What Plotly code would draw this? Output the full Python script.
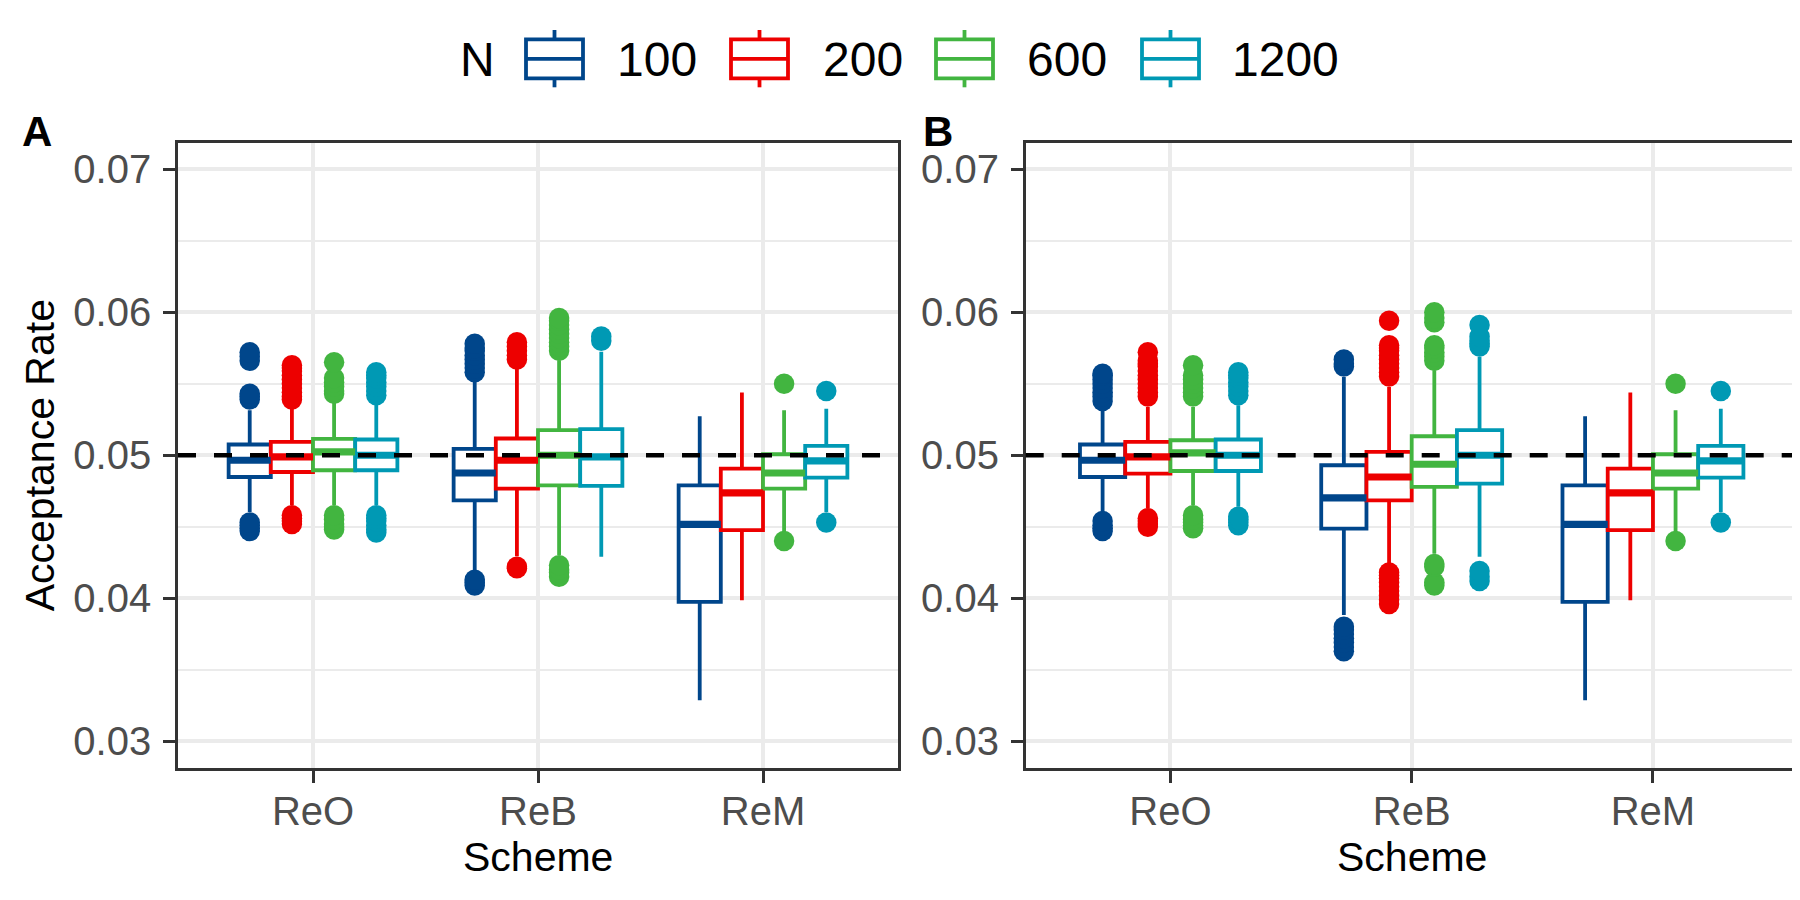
import plotly.graph_objects as go

# ---- data ----
SCHEMES = ["ReO", "ReB", "ReM"]
SIZES = ["100", "200", "600", "1200"]
COLORS = ["#00468B", "#ED0000", "#42B540", "#0099B4"]

# panel A: rows are N = 100, 200, 600, 1200; columns are ReO, ReB, ReM
A_LOWER = [
    [0.04604, 0.04196, 0.03287],
    [0.04650, 0.04294, 0.03986],
    [0.04650, 0.04301, 0.04464],
    [0.04650, 0.04290, 0.04604],
]
A_Q1 = [
    [0.04848, 0.04685, 0.03974],
    [0.04883, 0.04767, 0.04476],
    [0.04895, 0.04790, 0.04767],
    [0.04895, 0.04786, 0.04844],
]
A_MEDIAN = [
    [0.04965, 0.04876, 0.04517],
    [0.04988, 0.04965, 0.04737],
    [0.05023, 0.05000, 0.04876],
    [0.05000, 0.04988, 0.04960],
]
A_Q3 = [
    [0.05075, 0.05044, 0.04790],
    [0.05093, 0.05117, 0.04907],
    [0.05114, 0.05175, 0.05007],
    [0.05110, 0.05182, 0.05065],
]
A_UPPER = [
    [0.05315, 0.05513, 0.05273],
    [0.05326, 0.05606, 0.05438],
    [0.05366, 0.05664, 0.05315],
    [0.05357, 0.05723, 0.05326],
]
A_OUTLIERS = [
    [
        [0.0539, 0.0541, 0.0543, 0.0566, 0.0569, 0.0572, 0.0447, 0.0449, 0.0451, 0.0453],
        [0.0558, 0.0561, 0.0564, 0.0567, 0.0570, 0.0573, 0.0575, 0.0578, 0.0409, 0.0411, 0.0413],
        [],
    ],
    [
        [0.0539, 0.0541, 0.0544, 0.0547, 0.0550, 0.0553, 0.0556, 0.0559, 0.0561, 0.0563,
         0.0452, 0.0454, 0.0456, 0.0458],
        [0.0567, 0.0570, 0.0573, 0.0576, 0.0579, 0.0421, 0.0422],
        [],
    ],
    [
        [0.0543, 0.0545, 0.0548, 0.0551, 0.0554, 0.0565, 0.0448, 0.0450, 0.0452, 0.0455, 0.0458],
        [0.0573, 0.0576, 0.0579, 0.0582, 0.0585, 0.0588, 0.0591, 0.0594, 0.0596,
         0.0415, 0.0418, 0.0420, 0.0423],
        [0.0550, 0.0440],
    ],
    [
        [0.0542, 0.0545, 0.0548, 0.0551, 0.0554, 0.0556, 0.0558,
         0.0446, 0.0448, 0.0451, 0.0454, 0.0456, 0.0458],
        [0.0580, 0.0583],
        [0.0545, 0.0453],
    ],
]

# panel B
B_LOWER = [
    [0.04604, 0.03883, 0.03287],
    [0.04627, 0.04242, 0.03986],
    [0.04650, 0.04312, 0.04464],
    [0.04639, 0.04290, 0.04604],
]
B_Q1 = [
    [0.04848, 0.04487, 0.03974],
    [0.04872, 0.04685, 0.04476],
    [0.04890, 0.04779, 0.04767],
    [0.04890, 0.04802, 0.04844],
]
B_MEDIAN = [
    [0.04965, 0.04702, 0.04517],
    [0.04988, 0.04848, 0.04737],
    [0.05016, 0.04937, 0.04876],
    [0.05000, 0.05000, 0.04960],
]
B_Q3 = [
    [0.05075, 0.04930, 0.04790],
    [0.05093, 0.05023, 0.04907],
    [0.05105, 0.05133, 0.05007],
    [0.05110, 0.05175, 0.05065],
]
B_UPPER = [
    [0.05315, 0.05548, 0.05273],
    [0.05338, 0.05478, 0.05438],
    [0.05338, 0.05594, 0.05315],
    [0.05350, 0.05688, 0.05326],
]
B_OUTLIERS = [
    [
        [0.0538, 0.0541, 0.0544, 0.0547, 0.0550, 0.0553, 0.0556, 0.0557, 0.0447, 0.0449, 0.0451, 0.0454],
        [0.0562, 0.0564, 0.0567, 0.0363, 0.0366, 0.0369, 0.0372, 0.0375, 0.0378, 0.0380],
        [],
    ],
    [
        [0.0541, 0.0544, 0.0547, 0.0550, 0.0553, 0.0556, 0.0559, 0.0562, 0.0564, 0.0566, 0.0572,
         0.0450, 0.0452, 0.0454, 0.0456],
        [0.0555, 0.0558, 0.0561, 0.0564, 0.0567, 0.0570, 0.0573, 0.0575, 0.0577, 0.0594,
         0.0396, 0.0399, 0.0402, 0.0405, 0.0408, 0.0411, 0.0414, 0.0416, 0.0418],
        [],
    ],
    [
        [0.0541, 0.0544, 0.0547, 0.0550, 0.0553, 0.0556, 0.0563, 0.0449, 0.0451, 0.0453, 0.0455, 0.0458],
        [0.0566, 0.0569, 0.0572, 0.0575, 0.0577, 0.0593, 0.0596, 0.0600, 0.0409, 0.0411, 0.0422, 0.0424],
        [0.0550, 0.0440],
    ],
    [
        [0.0542, 0.0545, 0.0548, 0.0551, 0.0554, 0.0556, 0.0558, 0.0451, 0.0453, 0.0455, 0.0457],
        [0.0576, 0.0578, 0.0580, 0.0583, 0.0591, 0.0412, 0.0415, 0.0419],
        [0.0545, 0.0453],
    ],
]

REFERENCE_RATE = 0.05

# ---- layout helpers ----
# the page body has an 8px margin, so the figure starts at (8, 8) of the window;
# positions below are given in window pixels and shifted back here
PAGE_OFF = 8
W, H = 1800 - PAGE_OFF, 900 - PAGE_OFF
FONT = "Liberation Sans, Arial, Helvetica, sans-serif"
BOX_W = 0.1875
LINE_W = 3.8


def px(x):
    return (x - PAGE_OFF) / W


def py(y):
    return 1 - (y - PAGE_OFF) / H


fig = go.Figure()

panels = [
    ("x", "y", A_LOWER, A_Q1, A_MEDIAN, A_Q3, A_UPPER, A_OUTLIERS),
    ("x2", "y2", B_LOWER, B_Q1, B_MEDIAN, B_Q3, B_UPPER, B_OUTLIERS),
]

for xa, ya, lower, q1, med, q3, upper, outliers in panels:
    for i, size in enumerate(SIZES):
        off = (i - 1.5) * BOX_W
        xs = [k + 1 + off for k in range(len(SCHEMES))]
        fig.add_trace(go.Box(
            x=xs, q1=q1[i], median=med[i], q3=q3[i],
            lowerfence=lower[i], upperfence=upper[i],
            width=BOX_W, whiskerwidth=0, boxpoints=False,
            fillcolor="white", line=dict(color=COLORS[i], width=LINE_W),
            name=size, showlegend=False, xaxis=xa, yaxis=ya,
        ))
        # ggplot draws the median thicker than the box outline
        mx, my = [], []
        for x, m in zip(xs, med[i]):
            mx += [x - BOX_W / 2, x + BOX_W / 2, None]
            my += [m, m, None]
        fig.add_trace(go.Scatter(
            x=mx, y=my, mode="lines", line=dict(color=COLORS[i], width=7.2),
            showlegend=False, hoverinfo="skip", xaxis=xa, yaxis=ya,
        ))
        ox, oy = [], []
        for x, vals in zip(xs, outliers[i]):
            ox += [x] * len(vals)
            oy += vals
        fig.add_trace(go.Scatter(
            x=ox, y=oy, mode="markers",
            marker=dict(color=COLORS[i], size=20.5, line=dict(width=0)),
            name=size, showlegend=False, xaxis=xa, yaxis=ya,
        ))

xaxis_style = dict(
    range=[0.4, 3.6], tickvals=[1, 2, 3], ticktext=SCHEMES,
    ticks="outside", ticklen=12, tickwidth=2.6, tickcolor="#333333",
    showline=True, mirror=True, linecolor="#333333", linewidth=2.6,
    showgrid=True, gridcolor="#EBEBEB", gridwidth=3.6, zeroline=False,
    tickfont=dict(family=FONT, size=40, color="#4D4D4D"), ticklabelstandoff=-6,
)
yaxis_style = dict(
    range=[0.02813, 0.07187], tick0=0.03, dtick=0.01, tickformat=".2f",
    ticks="outside", ticklen=12, tickwidth=2.6, tickcolor="#333333",
    showline=True, mirror=True, linecolor="#333333", linewidth=2.6,
    showgrid=True, gridcolor="#EBEBEB", gridwidth=3.6, zeroline=False,
    minor=dict(dtick=0.005, showgrid=True, gridcolor="#EBEBEB", gridwidth=2.2),
    tickfont=dict(family=FONT, size=40, color="#4D4D4D"), ticklabelstandoff=4,
    domain=[py(768), py(142.5)],
)

shapes = []
for xref, yref in [("x domain", "y"), ("x2 domain", "y2")]:
    shapes.append(dict(
        type="line", xref=xref, yref=yref, x0=0, x1=1,
        y0=REFERENCE_RATE, y1=REFERENCE_RATE, layer="above",
        line=dict(color="black", width=4.3, dash="18px,18px"),
    ))

annotations = []
# legend drawn by hand so the keys look like ggplot box keys
key_left = [526, 731, 936, 1142]
label_left = [615, 821, 1025, 1230]
for i, size in enumerate(SIZES):
    x0, x1 = key_left[i], key_left[i] + 57
    cx = (x0 + x1) / 2
    pen = dict(color=COLORS[i], width=LINE_W)
    shapes.append(dict(type="rect", xref="paper", yref="paper",
                       x0=px(x0), x1=px(x1), y0=py(78.3), y1=py(39.3),
                       line=pen, fillcolor="white"))
    shapes.append(dict(type="line", xref="paper", yref="paper",
                       x0=px(x0), x1=px(x1), y0=py(58.8), y1=py(58.8), line=pen))
    shapes.append(dict(type="line", xref="paper", yref="paper",
                       x0=px(cx), x1=px(cx), y0=py(39.3), y1=py(30), line=pen))
    shapes.append(dict(type="line", xref="paper", yref="paper",
                       x0=px(cx), x1=px(cx), y0=py(87.3), y1=py(78.3), line=pen))
    annotations.append(dict(text=size, x=px(label_left[i]), y=py(60), xref="paper", yref="paper",
                            xanchor="left", yanchor="middle", showarrow=False,
                            font=dict(family=FONT, size=48, color="black")))
annotations.append(dict(text="N", x=px(458), y=py(60), xref="paper", yref="paper",
                        xanchor="left", yanchor="middle", showarrow=False,
                        font=dict(family=FONT, size=48, color="black")))

# panel tags
for tag, x in [("A", 36.5), ("B", 938)]:
    annotations.append(dict(text="<b>%s</b>" % tag, x=px(x), y=py(132), xref="paper", yref="paper",
                            xanchor="center", yanchor="middle", showarrow=False,
                            font=dict(family=FONT, size=42, color="black")))

# axis titles
for x in [(178 + 898) / 2, (1025.7 + 1797.7) / 2]:
    annotations.append(dict(text="Scheme", x=px(x), y=py(857), xref="paper", yref="paper",
                            xanchor="center", yanchor="middle", showarrow=False,
                            font=dict(family=FONT, size=41, color="black")))
annotations.append(dict(text="Acceptance Rate", x=px(40), y=py(455.3), xref="paper", yref="paper",
                        xanchor="center", yanchor="middle", showarrow=False, textangle=-90,
                        font=dict(family=FONT, size=41, color="black")))

fig.update_layout(
    width=W, height=H,
    margin=dict(l=0, r=0, t=0, b=0),
    paper_bgcolor="white", plot_bgcolor="white",
    showlegend=False, boxmode="overlay",
    xaxis=dict(domain=[px(178), px(898)], anchor="y", **xaxis_style),
    xaxis2=dict(domain=[px(1025.7), px(1797.7)], anchor="y2", **xaxis_style),
    yaxis=dict(anchor="x", **yaxis_style),
    yaxis2=dict(anchor="x2", **yaxis_style),
    shapes=shapes,
    annotations=annotations,
)

fig.write_html("out.html")
